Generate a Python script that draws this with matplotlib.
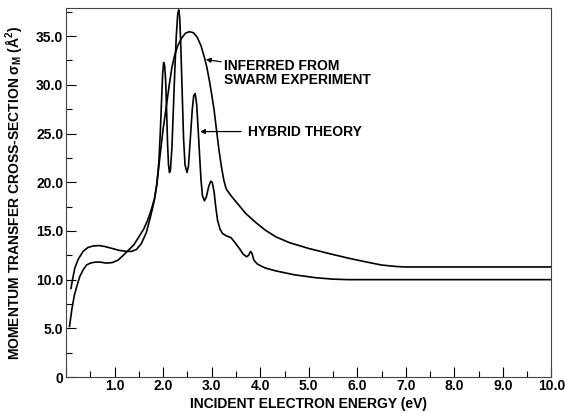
import matplotlib

matplotlib.use("Agg")
import matplotlib.pyplot as plt
from matplotlib.ticker import MultipleLocator, FuncFormatter

plt.rcParams["font.family"] = ["Liberation Sans", "DejaVu Sans"]
plt.rcParams["font.weight"] = "bold"
plt.rcParams["mathtext.fontset"] = "custom"
plt.rcParams["mathtext.bf"] = "Liberation Sans:bold"
plt.rcParams["mathtext.rm"] = "Liberation Sans:bold"

# Hybrid theory curve (energy in eV, cross-section in A^2)
hybrid_energy = [
    0.07, 0.12, 0.17, 0.22, 0.28, 0.35, 0.42, 0.5, 0.6, 0.7, 0.83, 0.95,
    1.07, 1.2, 1.3, 1.4, 1.5, 1.6, 1.68, 1.75, 1.82, 1.87, 1.91, 1.94,
    1.97, 1.99, 2.01, 2.03, 2.05, 2.07, 2.09, 2.11, 2.13, 2.15, 2.18, 2.21,
    2.24, 2.27, 2.3, 2.32, 2.34, 2.36, 2.39, 2.42, 2.45, 2.49, 2.52, 2.56,
    2.6, 2.63, 2.66, 2.69, 2.72, 2.75, 2.78, 2.81, 2.85, 2.89, 2.94, 2.98,
    3.01, 3.05, 3.08, 3.12, 3.17, 3.22, 3.3, 3.4, 3.48, 3.57, 3.65, 3.72,
    3.76, 3.8, 3.83, 3.87, 3.94, 4.1, 4.32, 4.7, 5.14, 5.5, 5.82, 7.0,
    8.5, 10.0,
]
hybrid_sigma = [
    5.2, 7.0, 8.4, 9.3, 10.3, 11.0, 11.5, 11.7, 11.8, 11.8, 11.7, 11.75,
    12.0, 12.6, 13.1, 13.6, 14.4, 15.2, 16.1, 17.1, 18.3, 19.8, 22.0, 25.0,
    28.8, 31.2, 32.3, 32.0, 30.5, 27.5, 24.0, 21.8, 21.0, 21.3, 23.5, 27.5,
    31.5, 35.0, 37.3, 37.7, 37.0, 34.5, 29.5, 24.5, 21.8, 21.0, 21.6, 24.5,
    27.5, 28.9, 29.1, 28.0, 25.5, 22.8, 20.2, 18.6, 18.1, 18.5, 19.6, 20.1,
    20.0, 19.0, 17.6, 16.1, 15.2, 14.75, 14.5, 14.3, 13.8, 13.2, 12.6, 12.35,
    12.5, 12.9, 12.7, 12.0, 11.6, 11.2, 10.9, 10.5, 10.2, 10.05, 10.0, 10.0,
    10.0, 10.0,
]

# Curve inferred from swarm experiment
swarm_energy = [
    0.1, 0.14, 0.18, 0.25, 0.35, 0.45, 0.55, 0.68, 0.8, 0.95, 1.1, 1.25,
    1.35, 1.45, 1.55, 1.65, 1.72, 1.78, 1.82, 1.87, 1.93, 2.0, 2.06, 2.12,
    2.18, 2.24, 2.3, 2.38, 2.46, 2.54, 2.62, 2.7, 2.78, 2.85, 2.9, 2.95,
    3.0, 3.05, 3.1, 3.15, 3.2, 3.25, 3.3, 3.4, 3.5, 3.7, 3.9, 4.1, 4.32,
    4.6, 5.0, 5.4, 5.82, 6.2, 6.5, 6.8, 7.0, 8.5, 10.0,
]
swarm_sigma = [
    9.1, 10.2, 11.2, 12.1, 12.9, 13.3, 13.45, 13.5, 13.4, 13.2, 13.0, 12.9,
    12.9, 13.1, 13.7, 14.8, 16.1, 17.3, 18.2, 19.8, 22.5, 25.5, 27.6, 29.8,
    31.8, 33.1, 34.0, 34.8, 35.3, 35.45, 35.35, 34.9, 34.0, 32.8, 31.8, 30.5,
    29.0, 27.4, 25.3, 23.3, 21.6, 20.2, 19.3, 18.6, 18.0, 16.8, 15.9, 15.1, 14.4,
    13.8, 13.2, 12.7, 12.2, 11.8, 11.5, 11.35, 11.3, 11.3, 11.3,
]

fig = plt.figure(figsize=(5.65, 4.13), dpi=100)
ax = fig.add_axes([0.117, 0.087, 0.859, 0.894])

ax.plot(hybrid_energy, hybrid_sigma, color="black", lw=1.2)
ax.plot(swarm_energy, swarm_sigma, color="black", lw=1.2)

ax.set_xlim(0, 10)
ax.set_ylim(0, 37.9)

ax.xaxis.set_major_locator(MultipleLocator(1.0))
ax.xaxis.set_minor_locator(MultipleLocator(0.5))
ax.yaxis.set_major_locator(MultipleLocator(5.0))
ax.yaxis.set_minor_locator(MultipleLocator(2.5))
ax.xaxis.set_major_formatter(FuncFormatter(lambda v, p: "" if v == 0 else f"{v:.1f}"))
ax.yaxis.set_major_formatter(FuncFormatter(lambda v, p: "0" if v == 0 else f"{v:.1f}"))

ax.tick_params(which="both", direction="in", labelsize=10, width=0.8)
ax.tick_params(which="major", length=7)
ax.tick_params(which="minor", length=4)
ax.tick_params(axis="x", pad=1.5)
ax.tick_params(axis="y", pad=2)
for sp in ax.spines.values():
    sp.set_linewidth(0.8)
    sp.set_color("#444444")

ax.set_xlabel("INCIDENT ELECTRON ENERGY (eV)", fontsize=10, fontweight="bold", labelpad=3)
ax.set_ylabel(r"MOMENTUM TRANSFER CROSS-SECTION σ$_\mathbf{M}$ (Å$^\mathbf{2}$)",
              fontsize=10, fontweight="bold", labelpad=9)

ax.annotate("INFERRED FROM\nSWARM EXPERIMENT", xy=(2.88, 32.6), xytext=(3.25, 32.6),
            fontsize=10, fontweight="bold", va="top", ha="left", linespacing=1.0,
            arrowprops=dict(arrowstyle="-|>", color="black", lw=0.9,
                            mutation_scale=7, shrinkA=0, shrinkB=0))
ax.annotate("HYBRID THEORY", xy=(2.76, 25.2), xytext=(3.75, 25.2),
            fontsize=10, fontweight="bold", va="center", ha="left",
            arrowprops=dict(arrowstyle="-|>", color="black", lw=0.9,
                            mutation_scale=7, shrinkA=3, shrinkB=0))

fig.savefig("out.png", dpi=100)
